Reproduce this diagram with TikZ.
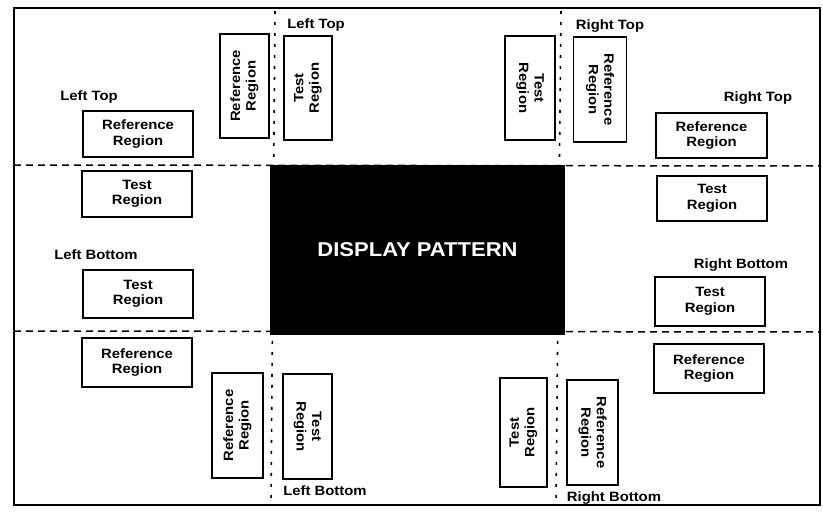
\documentclass[tikz,border=0pt]{standalone}
\usepackage{fontspec}
\setmainfont{Liberation Sans}[FakeStretch=1.1]
\begin{document}
\begin{tikzpicture}[x=1pt,y=-1pt,
  box/.style={draw=black,line width=1.3pt,align=center,inner sep=0pt,
    font=\fontsize{13.5}{15.5}\selectfont\bfseries},
  lbl/.style={inner sep=0pt,font=\fontsize{13.5}{15.5}\selectfont\bfseries},
  divider/.style={line width=1.5pt,dash pattern=on 7pt off 5pt},
  vdivider/.style={line width=1.6pt,dash pattern=on 3pt off 8pt}]
\useasboundingbox (0,0) rectangle (823,514);
% frame
\draw[line width=2pt] (14,8) rectangle (820,505);
% dividers
\coordinate (hl1) at (14,165); \coordinate (hr1) at (820,166);
\coordinate (hl2) at (14,331); \coordinate (hr2) at (820,332);
\coordinate (vt1) at (275,11); \coordinate (vb1) at (271,503);
\coordinate (vt2) at (561,11); \coordinate (vb2) at (556,503);
\draw[divider] (hl1) -- (hr1);
\draw[divider] (hl2) -- (hr2);
\draw[vdivider] (vt1) -- (vb1);
\draw[vdivider] (vt2) -- (vb2);
% display
\node[fill=black,minimum width=295pt,minimum height=170pt,inner sep=0pt,
  text=white,font=\fontsize{20}{22}\selectfont\bfseries] (display) at (417.5,250) {DISPLAY PATTERN};
% left side
\node[lbl] (ltlab) at (89,97) {Left Top};
\node[box,minimum width=110pt,minimum height=46pt] (ltref) at (138,134) {Reference\\Region};
\node[box,minimum width=110pt,minimum height=46pt] (lttest) at (137,194) {Test\\Region};
\node[lbl] (lblab) at (96,255) {Left Bottom};
\node[box,minimum width=110pt,minimum height=48pt] (lbtest) at (138,294) {Test\\Region};
\node[box,minimum width=110pt,minimum height=49pt] (lbref) at (137,362.5) {Reference\\Region};
% right side
\node[lbl] (rtlab) at (758,98) {Right Top};
\node[box,minimum width=111pt,minimum height=45pt] (rtref) at (711.5,135.5) {Reference\\Region};
\node[box,minimum width=110pt,minimum height=45pt] (rttest) at (712,198.5) {Test\\Region};
\node[lbl] (rblab) at (741,265) {Right Bottom};
\node[box,minimum width=110pt,minimum height=49pt] (rbtest) at (710,301.5) {Test\\Region};
\node[box,minimum width=110pt,minimum height=49pt] (rbref) at (709,368.5) {Reference\\Region};
% top
\node[lbl] (tllab) at (316,25) {Left Top};
\node[box,rotate=90,minimum width=104pt,minimum height=49pt] (tlref) at (244.5,86) {Reference\\Region};
\node[box,rotate=90,minimum width=104pt,minimum height=48pt] (tltest) at (308,88) {Test\\Region};
\node[lbl] (trlab) at (610,26) {Right Top};
\node[box,rotate=-90,minimum width=104pt,minimum height=50pt] (trtest) at (530,88) {Test\\Region};
\node[box,rotate=-90,minimum width=105pt,minimum height=53pt] (trref) at (600,89.5) {Reference\\Region};
% bottom
\node[box,rotate=90,minimum width=105pt,minimum height=51pt] (blref) at (237.5,425.5) {Reference\\Region};
\node[box,rotate=-90,minimum width=105pt,minimum height=49pt] (bltest) at (307.5,426.5) {Test\\Region};
\node[lbl] (bllab) at (325,491) {Left Bottom};
\node[box,rotate=90,minimum width=109pt,minimum height=47pt] (brtest) at (523.5,432.5) {Test\\Region};
\node[box,rotate=-90,minimum width=105pt,minimum height=51pt] (brref) at (592.5,432.5) {Reference\\Region};
\node[lbl] (brlab) at (614,498) {Right Bottom};
\end{tikzpicture}
\end{document}
